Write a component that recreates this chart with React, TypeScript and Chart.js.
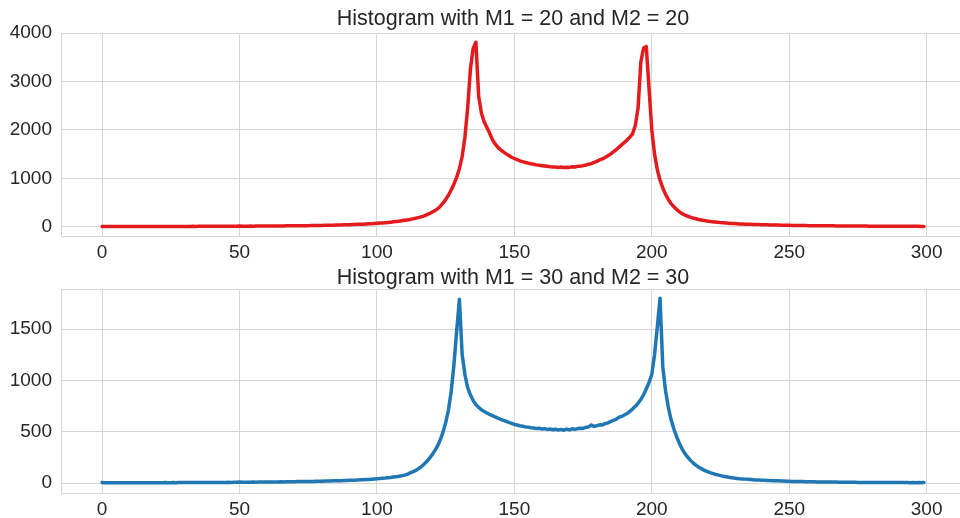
import React, { useEffect, useRef } from "react";
import { Chart, registerables } from "chart.js";

Chart.register(...registerables);

// bin index 0..299
const binIndex: number[] = Array.from({ length: 300 }, (_, i) => i);

const redCounts: number[] = [
  6, 5, 6, 5, 5, 6, 5, 6, 6, 5,
  6, 6, 5, 6, 6, 7, 6, 6, 7, 6,
  7, 7, 6, 7, 7, 7, 8, 7, 8, 8,
  8, 8, 8, 9, 8, 9, 9, 10, 9, 10,
  10, 10, 11, 11, 10, 11, 12, 11, 12, 12,
  14, 12, 13, 13, 14, 13, 14, 14, 15, 15,
  15, 16, 16, 17, 17, 18, 18, 19, 19, 20,
  21, 21, 22, 23, 24, 24, 25, 26, 27, 28,
  29, 30, 31, 33, 34, 35, 37, 38, 40, 42,
  44, 46, 48, 50, 53, 55, 58, 61, 64, 68,
  72, 76, 80, 85, 90, 96, 102, 109, 116, 124,
  133, 142, 152, 163, 175, 189, 204, 221, 245, 270,
  300, 330, 370, 420, 490, 560, 650, 760, 880, 1020,
  1200, 1450, 1850, 2450, 3250, 3680, 3810, 2700, 2350, 2170,
  2050, 1930, 1800, 1710, 1640, 1590, 1545, 1505, 1470, 1435,
  1410, 1385, 1362, 1345, 1328, 1315, 1300, 1290, 1278, 1270,
  1262, 1255, 1248, 1240, 1236, 1232, 1226, 1235, 1222, 1230,
  1226, 1238, 1235, 1248, 1252, 1262, 1275, 1290, 1305, 1330,
  1350, 1380, 1400, 1430, 1465, 1500, 1545, 1590, 1640, 1690,
  1740, 1790, 1850, 1920, 2090, 2450, 3400, 3690, 3720, 2850,
  2000, 1500, 1180, 960, 800, 670, 565, 480, 415, 360,
  310, 272, 242, 218, 198, 180, 166, 152, 140, 130,
  120, 112, 104, 98, 92, 86, 82, 77, 73, 70,
  66, 63, 60, 58, 55, 53, 51, 49, 47, 45,
  43, 42, 40, 39, 37, 36, 35, 33, 32, 31,
  30, 29, 28, 27, 26, 26, 25, 24, 23, 23,
  22, 22, 21, 20, 20, 19, 19, 18, 18, 17,
  17, 16, 16, 16, 15, 15, 14, 14, 14, 13,
  13, 13, 12, 12, 12, 11, 11, 11, 11, 10,
  10, 10, 10, 9, 9, 9, 9, 9, 8, 8,
];

const blueCounts: number[] = [
  6, 5, 5, 5, 4, 5, 4, 5, 5, 4,
  5, 4, 5, 5, 4, 5, 5, 5, 4, 5,
  5, 5, 5, 6, 5, 5, 6, 5, 6, 6,
  6, 6, 6, 6, 7, 6, 7, 7, 7, 7,
  7, 8, 7, 8, 8, 8, 9, 8, 9, 9,
  11, 9, 10, 10, 10, 11, 10, 11, 11, 12,
  12, 12, 12, 13, 13, 14, 13, 14, 14, 15,
  15, 16, 16, 16, 17, 17, 18, 18, 19, 19,
  20, 21, 21, 22, 23, 24, 25, 25, 26, 27,
  28, 29, 30, 32, 33, 34, 36, 37, 39, 41,
  43, 45, 48, 50, 53, 56, 60, 64, 68, 73,
  79, 86, 100, 110, 122, 140, 160, 182, 208, 240,
  275, 315, 360, 420, 495, 590, 710, 890, 1150, 1480,
  1790, 1250, 1060, 930, 860, 805, 765, 738, 715, 698,
  684, 670, 658, 645, 633, 622, 612, 603, 592, 583,
  572, 566, 560, 555, 548, 546, 540, 538, 533, 536,
  528, 531, 524, 528, 520, 526, 517, 524, 516, 527,
  519, 530, 524, 532, 536, 533, 545, 548, 566, 553,
  560, 568, 566, 580, 588, 600, 612, 622, 640, 650,
  664, 678, 700, 722, 748, 778, 815, 860, 920, 980,
  1060, 1250, 1520, 1800, 1130, 900, 740, 620, 530, 455,
  390, 335, 290, 255, 225, 198, 176, 158, 142, 128,
  115, 105, 96, 88, 81, 74, 68, 63, 58, 54,
  50, 47, 44, 42, 40, 38, 36, 34, 32, 31,
  29, 28, 27, 26, 25, 24, 23, 22, 21, 20,
  19, 18, 18, 17, 16, 16, 15, 15, 14, 14,
  13, 13, 12, 12, 12, 11, 11, 11, 10, 10,
  10, 9, 9, 9, 9, 8, 8, 8, 8, 8,
  7, 7, 7, 7, 7, 7, 6, 6, 6, 6,
  6, 6, 6, 6, 5, 6, 5, 6, 5, 6,
];

const xTickValues: number[] = [0, 50, 100, 150, 200, 250, 300];
const redYTicks: number[] = [0, 1000, 2000, 3000, 4000];
const blueYTicks: number[] = [0, 500, 1000, 1500];
const titles: string[] = [
  "Histogram with M1 = 20 and M2 = 20",
  "Histogram with M1 = 30 and M2 = 30",
];

const FONT = '"Liberation Sans", Arial, Helvetica, sans-serif';
const TEXT = "#262626";
const GRID = "#d6d6d6";
const CANVAS_W = 1010;

interface PanelSpec {
  values: number[];
  color: string;
  yMin: number;
  yMax: number;
  yTicks: number[];
  title: string;
  padTop: number;
  xAxisHeight: number;
  titleBaseline: number;
}

function makeChart(canvas: HTMLCanvasElement, spec: PanelSpec) {
  const framePlugin = {
    id: "frame",
    beforeDatasetsDraw(chart: any) {
      const { ctx, chartArea } = chart;
      ctx.save();
      ctx.strokeStyle = GRID;
      ctx.lineWidth = 1;
      ctx.strokeRect(
        Math.round(chartArea.left) + 0.5,
        Math.round(chartArea.top) + 0.5,
        Math.round(chartArea.right - chartArea.left),
        Math.round(chartArea.bottom - chartArea.top)
      );
      ctx.restore();
    },
  };
  const titlePlugin = {
    id: "panelTitle",
    afterDraw(chart: any) {
      const { ctx, chartArea } = chart;
      ctx.save();
      ctx.font = `21.5px ${FONT}`;
      ctx.fillStyle = TEXT;
      ctx.textAlign = "center";
      ctx.textBaseline = "alphabetic";
      ctx.fillText(spec.title, (chartArea.left + chartArea.right) / 2, spec.titleBaseline);
      ctx.restore();
    },
  };

  return new Chart(canvas, {
    type: "line",
    data: {
      datasets: [
        {
          data: binIndex.map((x, i) => ({ x, y: spec.values[i] })),
          borderColor: spec.color,
          backgroundColor: spec.color,
          borderWidth: 3.5,
          pointRadius: 0,
          tension: 0,
          borderJoinStyle: "round",
          borderCapStyle: "round",
          fill: false,
        },
      ],
    },
    options: {
      responsive: false,
      animation: false,
      devicePixelRatio: 1,
      layout: { padding: { left: 0, right: CANVAS_W - 965, top: spec.padTop, bottom: 0 } },
      plugins: { legend: { display: false }, tooltip: { enabled: false }, title: { display: false } },
      scales: {
        x: {
          type: "linear",
          min: -14.95,
          max: 313.95,
          afterBuildTicks: (scale: any) => {
            scale.ticks = xTickValues.map((v) => ({ value: v }));
          },
          afterFit: (scale: any) => {
            scale.height = spec.xAxisHeight;
          },
          grid: { color: GRID, lineWidth: 1, drawTicks: false },
          border: { display: false },
          ticks: {
            autoSkip: false,
            maxRotation: 0,
            padding: 5,
            color: TEXT,
            font: { family: FONT, size: 19 },
            callback: (v: any) => String(v),
          },
        },
        y: {
          type: "linear",
          min: spec.yMin,
          max: spec.yMax,
          afterBuildTicks: (scale: any) => {
            scale.ticks = spec.yTicks.map((v) => ({ value: v }));
          },
          afterFit: (scale: any) => {
            scale.width = 61;
          },
          grid: { color: GRID, lineWidth: 1, drawTicks: false },
          border: { display: false },
          ticks: {
            padding: 9,
            color: TEXT,
            font: { family: FONT, size: 19 },
            callback: (v: any) => String(v),
          },
        },
      },
    },
    plugins: [framePlugin, titlePlugin],
  } as any);
}

export default function App() {
  const topRef = useRef<HTMLCanvasElement | null>(null);
  const bottomRef = useRef<HTMLCanvasElement | null>(null);

  useEffect(() => {
    const charts: Chart[] = [];
    if (topRef.current) {
      charts.push(
        makeChart(topRef.current, {
          values: redCounts,
          color: "#e41a1c",
          yMin: -190,
          yMax: 4000,
          yTicks: redYTicks,
          title: titles[0],
          padTop: 33,
          xAxisHeight: 24,
          titleBaseline: 25,
        })
      );
    }
    if (bottomRef.current) {
      charts.push(
        makeChart(bottomRef.current, {
          values: blueCounts,
          color: "#1f77b4",
          yMin: -95,
          yMax: 1890,
          yTicks: blueYTicks,
          title: titles[1],
          padTop: 29,
          xAxisHeight: 25,
          titleBaseline: 24,
        })
      );
    }
    return () => charts.forEach((c) => c.destroy());
  }, []);

  return (
    <div
      style={{
        position: "absolute",
        left: 0,
        top: 0,
        width: 960,
        height: 518,
        overflow: "hidden",
        background: "#ffffff",
      }}
    >
      <canvas
        ref={topRef}
        width={CANVAS_W}
        height={260}
        style={{ position: "absolute", left: 0, top: 0, width: CANVAS_W, height: 260 }}
      />
      <canvas
        ref={bottomRef}
        width={CANVAS_W}
        height={258}
        style={{ position: "absolute", left: 0, top: 260, width: CANVAS_W, height: 258 }}
      />
    </div>
  );
}
